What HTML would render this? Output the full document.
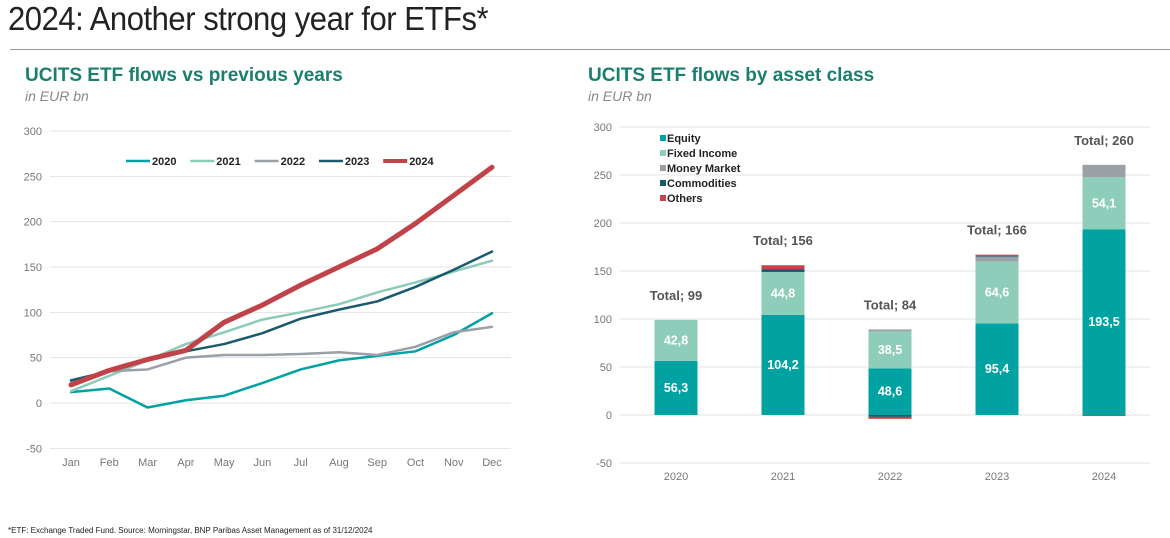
<!DOCTYPE html>
<html><head><meta charset="utf-8"><style>
body{margin:0;width:1170px;height:538px;background:#fff;font-family:"Liberation Sans",sans-serif;overflow:hidden;position:relative}
.t{position:absolute;white-space:nowrap}
</style></head><body>
<div class="t" style="left:8px;top:0px;font-size:33px;color:#222;letter-spacing:-0.5px;transform:scaleX(0.94);transform-origin:left">2024: Another strong year for ETFs*</div>
<div style="position:absolute;left:10px;top:49px;width:1160px;height:1px;background:#999"></div>
<div class="t" style="left:25px;top:65px;font-size:19px;font-weight:bold;color:#1b7f6e">UCITS ETF flows vs previous years</div>
<div class="t" style="left:25px;top:88px;font-size:14px;font-style:italic;color:#888">in EUR bn</div>
<div class="t" style="left:588px;top:65px;font-size:19px;font-weight:bold;color:#1b7f6e">UCITS ETF flows by asset class</div>
<div class="t" style="left:588px;top:88px;font-size:14px;font-style:italic;color:#888">in EUR bn</div>
<div class="t" style="left:8px;top:526px;font-size:8px;color:#222">*ETF: Exchange Traded Fund. Source: Morningstar, BNP Paribas Asset Management as of 31/12/2024</div>
<svg id="lc" width="540" height="480" style="position:absolute;left:0;top:0"></svg>
<svg id="bc" width="1170" height="480" style="position:absolute;left:0;top:0"></svg>
<script>
const months=["Jan","Feb","Mar","Apr","May","Jun","Jul","Aug","Sep","Oct","Nov","Dec"];
const yTicks=[-50,0,50,100,150,200,250,300];
const years=["2020","2021","2022","2023","2024"];
const s2020=[12,16,-5,3,8,22,37,47,52,57,75,99];
const s2021=[13,30,47,65,78,92,100,109,122,133,145,157];
const s2022=[24,35,37,50,53,53,54,56,53,62,78,84];
const s2023=[25,35,47,57,65,77,93,103,112,128,147,167];
const s2024=[20,36,48,58,89,108,130,150,170,198,229,260];
const barYears=["2020","2021","2022","2023","2024"];
const equity=[56.3,104.2,48.6,95.4,193.5];
const fixedIncome=[42.8,44.8,38.5,64.6,54.1];
const moneyMarket=[0,0,2,5,13];
const commodities=[0,3,-2,1,0];
const others=[0,4,-2,1,-1];
const totals=[99,156,84,166,260];
const NS="http://www.w3.org/2000/svg";
function mk(p,t,a){const e=document.createElementNS(NS,t);for(const k in a)e.setAttribute(k,a[k]);p.appendChild(e);return e;}
const lc=document.getElementById('lc');
const ly=v=>403-v*(272/300);
const lx=i=>71+i*(421/11);
yTicks.forEach(v=>{
 const g=mk(lc,'line',{x1:50,x2:511,y1:ly(v),y2:ly(v),stroke:'#e3e3e3','stroke-width':1});
 
 const t=mk(lc,'text',{x:42,y:ly(v)+4,'text-anchor':'end','font-size':11,fill:'#777'});t.textContent=v;
 
});
months.forEach((m,i)=>{const t=mk(lc,'text',{x:lx(i),y:466,'text-anchor':'middle','font-size':11,fill:'#777'});t.textContent=m;
 });
const series=[[s2020,'#00a3a1',2.5],[s2021,'#8ccbb8',2.5],[s2022,'#9aa0a8',2.5],[s2023,'#1a5a6e',2.5],[s2024,'#c0434a',5]];
series.forEach((s,k)=>{
 const p=mk(lc,'polyline',{points:s[0].map((v,i)=>lx(i)+','+ly(v)).join(' '),fill:'none',stroke:s[1],'stroke-width':s[2],'stroke-linejoin':'round','stroke-linecap':'round'});
 
 const x0=126+k*64.3;
 const l=mk(lc,'line',{x1:x0,x2:x0+24,y1:161,y2:161,stroke:s[1],'stroke-width':s[2]==5?4:2.5});
 
 const t=mk(lc,'text',{x:x0+26,y:165,'font-size':11,'font-weight':'bold',fill:'#222'});t.textContent=years[k];
 
});
const bc=document.getElementById('bc');
const by=v=>415-v*(288/300);
const bx=i=>676+i*107;
const bw=43;
yTicks.forEach(v=>{
 const g=mk(bc,'line',{x1:620,x2:1150,y1:by(v),y2:by(v),stroke:'#e3e3e3','stroke-width':1});
 
 const t=mk(bc,'text',{x:612,y:by(v)+4,'text-anchor':'end','font-size':11,fill:'#777'});t.textContent=v;
 
});
const cats=[[equity,'#00a3a1','Equity'],[fixedIncome,'#8ecdb9','Fixed Income'],[moneyMarket,'#99a0a6','Money Market'],[commodities,'#1b5a6e','Commodities'],[others,'#c9414b','Others']];
barYears.forEach((yr,i)=>{
 let pos=0,neg=0;
 cats.forEach(c=>{const v=c[0][i];if(!v)return;let a,b;
  if(v>0){a=pos;b=pos+v;pos=b;}else{a=neg;b=neg+v;neg=b;}
  const r=mk(bc,'rect',{x:bx(i)-bw/2,y:by(Math.max(a,b)),width:bw,height:Math.abs(by(a)-by(b)),fill:c[1]});
  
 });
 [[equity[i],equity[i]/2],[fixedIncome[i],equity[i]+fixedIncome[i]/2]].forEach(d=>{
  const t=mk(bc,'text',{x:bx(i),y:by(d[1])+4,'text-anchor':'middle','font-size':12.5,'font-weight':'bold',fill:'#fff'});t.textContent=String(d[0]).replace('.',',');
  });
 const tt=mk(bc,'text',{x:bx(i),y:by(pos)-20,'text-anchor':'middle','font-size':13,'font-weight':'bold',fill:'#555'});tt.textContent='Total; '+totals[i];
 
 const xl=mk(bc,'text',{x:bx(i),y:480,'text-anchor':'middle','font-size':11,fill:'#777'});xl.textContent=yr;
 
});
cats.forEach((c,k)=>{
 const r=mk(bc,'rect',{x:660,y:135+k*15,width:6,height:6,fill:c[1]});
 
 const t=mk(bc,'text',{x:667,y:142+k*15,'font-size':11,'font-weight':'bold',fill:'#222'});t.textContent=c[2];
 
});
</script>
</body></html>
